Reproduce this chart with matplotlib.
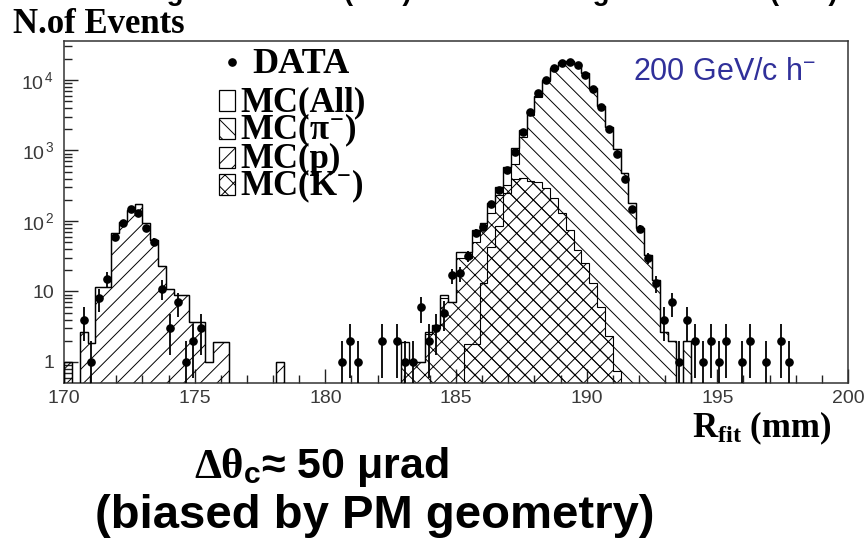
import numpy as np
import matplotlib
matplotlib.use("Agg")
import matplotlib.pyplot as plt
from matplotlib.ticker import MultipleLocator, LogLocator, FuncFormatter, NullFormatter
from matplotlib.patches import Rectangle
from matplotlib.lines import Line2D

# ---------------- data (100 bins, 170-200 mm, 0.3 mm wide) ----------------
x_min, x_max, n_bins = 170.0, 200.0, 100

data_counts = [
    0, 0, 4, 1, 8, 15, 60, 93, 150, 130,
    80, 51, 11, 3, 7, 1, 2, 3, 0, 0,
    0, 0, 0, 0, 0, 0, 0, 0, 0, 0,
    0, 0, 0, 0, 0, 1, 2, 1, 0, 0,
    2, 0, 2, 1, 1, 6, 2, 3, 5, 17,
    18, 32, 68, 83, 175, 275, 520, 960, 1850, 3500,
    6600, 10000, 14700, 17600, 18200, 16300, 11700, 7400, 4100, 2000,
    890, 390, 150, 78, 30, 13, 4, 7, 1, 4,
    2, 1, 2, 1, 2, 0, 1, 2, 0, 1,
    0, 2, 1, 0, 0, 0, 0, 0, 0, 0,
]

mc_all = [
    1, 0, 2.7, 1.85, 11.7, 11.7, 67, 98, 143, 174,
    93, 54, 23, 11, 8.9, 8.9, 3.7, 3.7, 1, 1.9,
    1.9, 0, 0, 0, 0, 0, 0, 1, 0, 0,
    0, 0, 0, 0, 0, 0, 0, 0, 0, 0,
    0, 0, 0, 1.9, 1, 1, 2.7, 3.3, 9, 7.2,
    36, 36, 74, 93, 178, 305, 585, 1070, 1960, 3550,
    6000, 10000, 14700, 17800, 18500, 16800, 12500, 7800, 4300, 2150,
    1050, 474, 178, 79, 33, 14.6, 2.7, 2.0, 0, 2.0,
    0, 0, 0, 0, 0, 0, 0, 0, 0, 0,
    0, 0, 0, 0, 0, 0, 0, 0, 0, 0,
]

mc_pion = [
    0, 0, 0, 0, 0, 0, 0, 0, 0, 0,
    0, 0, 0, 0, 0, 0, 0, 0, 0, 0,
    0, 0, 0, 0, 0, 0, 0, 0, 0, 0,
    0, 0, 0, 0, 0, 0, 0, 0, 0, 0,
    0, 0, 0, 0, 0, 0, 0, 0, 0, 0,
    0, 1.8, 1.8, 13, 43, 85, 250, 650, 1550, 3170,
    5640, 9700, 14500, 17650, 18400, 16750, 12450, 7780, 4290, 2145,
    1045, 474, 178, 79, 33, 14.6, 2.7, 2.0, 0, 2.0,
    0, 0, 0, 0, 0, 0, 0, 0, 0, 0,
    0, 0, 0, 0, 0, 0, 0, 0, 0, 0,
]

mc_proton = [
    1, 0, 2.7, 1.85, 11.7, 11.7, 67, 98, 143, 174,
    93, 54, 23, 11, 8.9, 8.9, 3.7, 3.7, 1, 1.9,
    1.9, 0, 0, 0, 0, 0, 0, 1, 0, 0,
    0, 0, 0, 0, 0, 0, 0, 0, 0, 0,
    0, 0, 0, 0, 0, 0, 0, 0, 0, 0,
    0, 0, 0, 0, 0, 0, 0, 0, 0, 0,
    0, 0, 0, 0, 0, 0, 0, 0, 0, 0,
    0, 0, 0, 0, 0, 0, 0, 0, 0, 0,
    0, 0, 0, 0, 0, 0, 0, 0, 0, 0,
    0, 0, 0, 0, 0, 0, 0, 0, 0, 0,
]

mc_kaon = [
    0, 0, 0, 0, 0, 0, 0, 0, 0, 0,
    0, 0, 0, 0, 0, 0, 0, 0, 0, 0,
    0, 0, 0, 0, 0, 0, 0, 0, 0, 0,
    0, 0, 0, 0, 0, 0, 0, 0, 0, 0,
    0, 0, 0, 1, 1, 1, 2.5, 3.0, 8, 7,
    30, 30, 50, 85, 130, 230, 320, 400, 410, 370,
    360, 290, 210, 128, 74, 39, 25, 13, 6.1, 2.3,
    0.75, 0, 0, 0, 0, 0, 0, 0, 0, 0,
    0, 0, 0, 0, 0, 0, 0, 0, 0, 0,
    0, 0, 0, 0, 0, 0, 0, 0, 0, 0,
]

x_ticks = [170, 175, 180, 185, 190, 195, 200]
legend_labels = ["DATA", "MC(All)", r"MC($\pi^{-}$)", "MC(p)", r"MC(K$^{-}$)"]

# ---------------- style ----------------
plt.rcParams["mathtext.fontset"] = "custom"
plt.rcParams["mathtext.rm"] = "Liberation Serif:bold"
plt.rcParams["mathtext.it"] = "Liberation Serif:bold"
plt.rcParams["mathtext.bf"] = "Liberation Sans:bold"
plt.rcParams["mathtext.sf"] = "Liberation Sans"
plt.rcParams["hatch.linewidth"] = 0.7

W, H = 868, 545
fig = plt.figure(figsize=(W / 100, H / 100), dpi=100)
fx = lambda px: px / W
fy = lambda py: 1 - py / H

ax = fig.add_axes([fx(64), fy(383), (848 - 64) / W, (383 - 41) / H])

edges = np.linspace(x_min, x_max, n_bins + 1)
centers = 0.5 * (edges[:-1] + edges[1:])
tiny = 1e-3


def pos(v):
    v = np.asarray(v, dtype=float)
    return np.where(v > 0, v, tiny)


ax.stairs(pos(mc_pion), edges, baseline=tiny, fill=True, facecolor="none",
          edgecolor="black", hatch="\\\\", lw=0.8, zorder=1)
ax.stairs(pos(mc_kaon), edges, baseline=tiny, fill=True, facecolor="none",
          edgecolor="black", hatch="xx", lw=0.8, zorder=2)
ax.stairs(pos(mc_proton), edges, baseline=tiny, fill=True, facecolor="none",
          edgecolor="black", hatch="//", lw=0.8, zorder=2)
ax.stairs(pos(mc_all), edges, baseline=tiny, fill=False, color="black",
          lw=1.0, zorder=3)

d = np.asarray(data_counts, dtype=float)
m = d > 0
err = np.sqrt(d[m])
lo = np.minimum(err, d[m] - tiny)
ax.errorbar(centers[m], d[m], yerr=[lo, err], fmt="o", color="black",
            ms=5.2, elinewidth=1.3, capsize=0, zorder=4)

ax.set_xlim(x_min, x_max)
ax.set_yscale("log")
ax.set_ylim(0.503, 35700)

ax.xaxis.set_major_locator(MultipleLocator(5))
ax.xaxis.set_minor_locator(MultipleLocator(1))
ax.set_xticks(x_ticks)
ax.yaxis.set_major_locator(LogLocator(base=10, numticks=10))
ax.yaxis.set_minor_locator(LogLocator(base=10, subs=np.arange(2, 10), numticks=20))
ax.yaxis.set_minor_formatter(NullFormatter())


def yfmt(v, p):
    if abs(v - 1) < 1e-9:
        return "1"
    if abs(v - 10) < 1e-9:
        return "10"
    e = int(round(np.log10(v)))
    return r"$\mathsf{10^{\,%d}}$" % e


ax.yaxis.set_major_formatter(FuncFormatter(yfmt))

tick_col = "#3a3a3a"
ax.tick_params(axis="both", which="both", direction="in", top=False, right=False,
               colors="#222222", labelcolor=tick_col)
ax.tick_params(axis="x", which="major", length=10, width=1.0, labelsize=14, pad=5)
ax.tick_params(axis="y", which="major", length=10, width=1.0, labelsize=14, pad=7)
ax.tick_params(axis="both", which="minor", length=5.5, width=1.0)
for lab in ax.get_xticklabels() + ax.get_yticklabels():
    lab.set_family("Liberation Sans")
for s in ax.spines.values():
    s.set_color("#333333")
    s.set_linewidth(1.1)

# ---------------- texts ----------------
serif = "Liberation Serif"
sans = "Liberation Sans"

# title above the picture, cut off by the top edge (only descenders show)
fig.text(fx(122), fy(0.3), "Ring radius fit R (mm)", family=sans, weight="bold",
         fontsize=20, va="baseline")
fig.text(fx(548), fy(0.3), "Ring radius fit R (mm)", family=sans, weight="bold",
         fontsize=20, va="baseline")

fig.text(fx(13), fy(33), "N.of Events", family=serif, weight="bold",
         fontsize=25, va="baseline")

fig.text(fx(633), fy(80), r"200 GeV/c h$^{\mathsf{-}}$", family=sans,
         fontsize=22, color="#30309a", va="baseline")

fig.text(fx(692), fy(437), r"$\mathrm{R_{fit}}$ (mm)", family=serif,
         weight="bold", fontsize=25, va="baseline")

fig.text(fx(321), fy(478), r"$\Delta\theta_{\mathbf{c}}$≈ 50 μrad", family=sans,
         weight="bold", fontsize=31, ha="center", va="baseline")
fig.text(fx(375), fy(528), "(biased by PM geometry)", family=sans,
         weight="bold", fontsize=34, ha="center", va="baseline")

# ---------------- legend (drawn manually) ----------------
fig.add_artist(Line2D([fx(232)], [fy(62)], marker="o", ms=5.2, color="black",
                      transform=fig.transFigure))
fig.text(fx(252), fy(73), legend_labels[0], family=serif, weight="bold",
         fontsize=26, va="baseline")

rows = [(111, None), (139, "\\\\"), (168, "//"), (195, "xx")]
for (base, hatch), lab in zip(rows, legend_labels[1:]):
    r = Rectangle((fx(219), fy(base)), 16 / W, 21 / H, transform=fig.transFigure,
                  facecolor="white", edgecolor="black", lw=0.9, hatch=hatch)
    fig.add_artist(r)
    fig.text(fx(240), fy(base), lab, family=serif, weight="bold",
             fontsize=25, va="baseline")

fig.savefig("out.png", dpi=100, facecolor="white")
